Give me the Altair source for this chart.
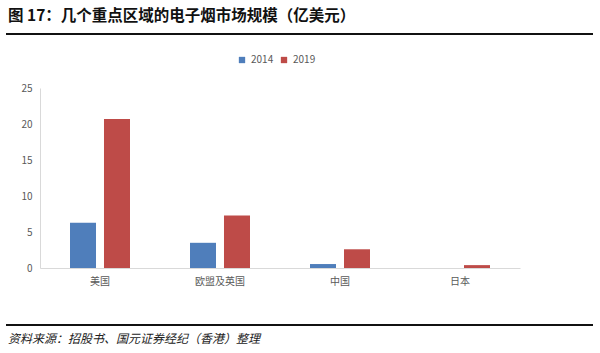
import altair as alt
import pandas as pd

regions = ["美国", "欧盟及英国", "中国", "日本"]
years = ["2014", "2019"]
v2014 = [6.3, 3.5, 0.55, 0.0]
v2019 = [20.7, 7.3, 2.6, 0.4]
colors = ["#4F7EBB", "#BE4B48"]
title_text = "图 17：几个重点区域的电子烟市场规模（亿美元）"
source_text = "资料来源：招股书、国元证券经纪（香港）整理"

rows = []
for i, r in enumerate(regions):
    rows.append({"region": r, "year": "2014", "value": v2014[i]})
    rows.append({"region": r, "year": "2019", "value": v2019[i]})
df = pd.DataFrame(rows)

FONT = "Noto Sans CJK SC"

bars = alt.Chart(df).mark_bar().encode(
    x=alt.X("region:N", sort=regions, title=None,
            scale=alt.Scale(paddingInner=0.5, paddingOuter=0.25),
            axis=alt.Axis(labelAngle=0, ticks=False, domainColor="#d9d9d9",
                          labelColor="#595959", labelFontSize=10, labelPadding=8,
                          labelFont=FONT)),
    xOffset=alt.XOffset("year:N", sort=years, scale=alt.Scale(paddingInner=0.235)),
    y=alt.Y("value:Q", title=None, scale=alt.Scale(domain=[0, 25]),
            axis=alt.Axis(values=[0, 5, 10, 15, 20, 25], grid=False, ticks=False,
                          domainColor="#d9d9d9", labelColor="#595959",
                          labelFontSize=10, labelPadding=8, labelFont=FONT)),
    color=alt.Color("year:N", sort=years,
                    scale=alt.Scale(domain=years, range=colors),
                    legend=alt.Legend(title=None, orient="none", direction="horizontal",
                                      legendX=197, legendY=-33, symbolType="square",
                                      symbolSize=40, labelFontSize=10,
                                      labelColor="#595959", columnPadding=5,
                                      labelFont=FONT, symbolStrokeWidth=0)),
)

one = alt.Data(values=[{"a": 1}])

title = alt.Chart(one).mark_text(
    text=title_text, font=FONT, fontSize=15.5, fontWeight="bold",
    align="left", baseline="middle", color="#111111"
).encode(x=alt.value(-32), y=alt.value(-72))

top_line = alt.Chart(one).mark_rule(color="#111111", strokeWidth=2).encode(
    x=alt.value(-34), x2=alt.value(553), y=alt.value(-54))

bottom_line = alt.Chart(one).mark_rule(color="#111111", strokeWidth=2).encode(
    x=alt.value(-34), x2=alt.value(553), y=alt.value(237))

source = alt.Chart(one).mark_text(
    text=source_text, font=FONT, fontSize=12, fontStyle="italic",
    align="left", baseline="middle", color="#222222"
).encode(x=alt.value(-32), y=alt.value(251))

chart = alt.layer(bars, title, top_line, bottom_line, source).properties(
    width=480, height=180,
    padding={"left": 40, "top": 88, "right": 80, "bottom": 85},
    autosize=alt.AutoSizeParams(type="none"),
    background="white",
).configure_view(stroke=None)

chart.save("out.html", embed_options={"renderer": "svg", "actions": False})
